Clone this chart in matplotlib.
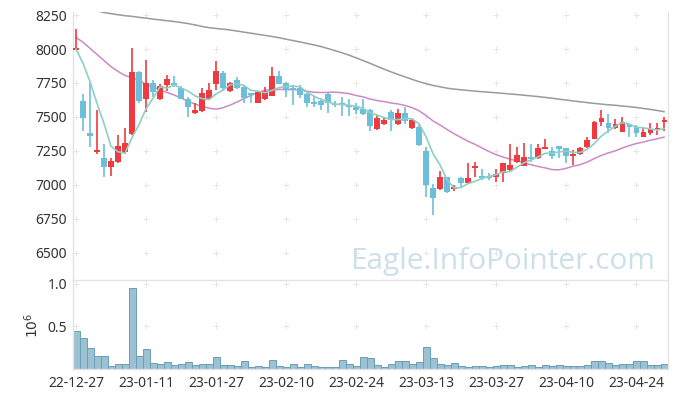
"""
Candlestick chart with 5/20/60 day moving averages and a volume panel.
"""

import matplotlib
matplotlib.use('Agg')
import matplotlib.pyplot as plt
import numpy as np

# Daily OHLC, one entry per trading day
opens = [7990, 7620, 7380, 7240, 7200, 7135, 7170, 7240, 7375, 7830,
         7630, 7750, 7630, 7735, 7750, 7715, 7635, 7527, 7545, 7630,
         7740, 7820, 7690, 7775, 7720, 7675, 7605, 7630, 7655, 7800,
         7750, 7710, 7710, 7670, 7610, 7620, 7670, 7595, 7605, 7585,
         7575, 7560, 7555, 7410, 7445, 7535, 7445, 7527, 7417, 7425,
         7250, 6980, 6970, 7057, 6970, 7050, 7017, 7125, 7065, 7065,
         7057, 7086, 7110, 7172, 7142, 7208, 7196, 7265, 7250, 7287,
         7270, 7216, 7228, 7277, 7336, 7461, 7453, 7417, 7392, 7446,
         7429, 7355, 7380, 7404, 7466]
highs = [8150, 7670, 7760, 7550, 7300, 7195, 7365, 7420, 8005, 7840,
         7920, 7775, 7740, 7810, 7805, 7725, 7650, 7600, 7710, 7750,
         7910, 7835, 7755, 7795, 7725, 7680, 7690, 7720, 7865, 7835,
         7755, 7735, 7735, 7675, 7655, 7640, 7675, 7620, 7645, 7630,
         7600, 7630, 7560, 7515, 7500, 7550, 7557, 7575, 7490, 7440,
         7280, 7010, 7100, 7060, 7000, 7055, 7160, 7172, 7115, 7090,
         7115, 7165, 7300, 7280, 7310, 7300, 7300, 7335, 7282, 7290,
         7275, 7257, 7280, 7355, 7468, 7550, 7522, 7483, 7498, 7450,
         7440, 7417, 7458, 7458, 7498]
lows = [7990, 7400, 7280, 7230, 7060, 7065, 7165, 7230, 7370, 7600,
        7535, 7650, 7625, 7690, 7720, 7630, 7500, 7520, 7540, 7625,
        7695, 7700, 7685, 7705, 7605, 7600, 7600, 7625, 7655, 7740,
        7650, 7590, 7640, 7570, 7575, 7550, 7530, 7570, 7505, 7505,
        7520, 7518, 7400, 7405, 7440, 7400, 7440, 7450, 7410, 7290,
        6910, 6780, 6965, 6940, 6955, 6985, 7015, 7057, 7035, 7040,
        7025, 7020, 7098, 7165, 7140, 7172, 7192, 7262, 7190, 7196,
        7165, 7147, 7220, 7275, 7335, 7430, 7380, 7410, 7390, 7355,
        7355, 7353, 7368, 7368, 7400]
closes = [8010, 7495, 7360, 7260, 7135, 7175, 7290, 7310, 7830, 7615,
          7750, 7685, 7730, 7780, 7735, 7635, 7575, 7550, 7680, 7700,
          7840, 7715, 7750, 7715, 7640, 7660, 7685, 7690, 7800, 7745,
          7705, 7695, 7665, 7605, 7595, 7585, 7605, 7585, 7585, 7570,
          7555, 7520, 7435, 7490, 7478, 7475, 7527, 7473, 7478, 7295,
          7000, 6905, 7057, 6945, 6983, 7017, 7050, 7140, 7050, 7052,
          7081, 7160, 7147, 7221, 7204, 7190, 7270, 7279, 7216, 7262,
          7216, 7228, 7270, 7331, 7466, 7490, 7417, 7449, 7461, 7424,
          7380, 7387, 7410, 7421, 7478]

# Moving averages as drawn on the chart
ma5 = [8000, 7895, 7760, 7600, 7452, 7285, 7244, 7234, 7348, 7444,
       7559, 7638, 7722, 7712, 7736, 7713, 7691, 7655, 7635, 7628,
       7669, 7697, 7737, 7744, 7732, 7696, 7690, 7678, 7695, 7716,
       7725, 7727, 7722, 7683, 7653, 7629, 7611, 7595, 7591, 7586,
       7580, 7563, 7533, 7514, 7496, 7480, 7481, 7489, 7486, 7450,
       7355, 7230, 7147, 7040, 6978, 6981, 7010, 7027, 7048, 7062,
       7075, 7097, 7098, 7132, 7163, 7184, 7206, 7233, 7232, 7243,
       7249, 7240, 7238, 7261, 7302, 7357, 7395, 7431, 7457, 7448,
       7426, 7420, 7412, 7404, 7415]
ma20 = [8085, 8050, 8005, 7960, 7915, 7870, 7835, 7805, 7790, 7770,
        7740, 7720, 7700, 7680, 7662, 7640, 7615, 7595, 7578, 7565,
        7557, 7568, 7587, 7610, 7635, 7659, 7679, 7698, 7697, 7703,
        7701, 7701, 7698, 7689, 7682, 7680, 7681, 7683, 7678, 7672,
        7658, 7648, 7632, 7621, 7613, 7603, 7596, 7585, 7569, 7546,
        7511, 7471, 7441, 7408, 7377, 7349, 7321, 7299, 7272, 7246,
        7223, 7205, 7190, 7177, 7163, 7149, 7136, 7126, 7113, 7111,
        7122, 7138, 7149, 7168, 7193, 7216, 7235, 7250, 7271, 7289,
        7304, 7315, 7329, 7339, 7352]
ma60 = [8330, 8315, 8300, 8280, 8268, 8260, 8252, 8245, 8240, 8233,
        8227, 8220, 8214, 8208, 8202, 8195, 8187, 8177, 8166, 8157,
        8151, 8146, 8140, 8132, 8124, 8116, 8108, 8100, 8092, 8083,
        8072, 8062, 8052, 8041, 8030, 8018, 8003, 7988, 7972, 7955,
        7935, 7915, 7895, 7873, 7852, 7832, 7813, 7795, 7777, 7760,
        7745, 7732, 7722, 7712, 7705, 7700, 7695, 7690, 7686, 7682,
        7678, 7674, 7669, 7665, 7660, 7655, 7650, 7644, 7638, 7631,
        7625, 7618, 7612, 7606, 7600, 7595, 7590, 7586, 7581, 7576,
        7570, 7563, 7556, 7548, 7539]

# Volume in millions of shares
volume = [0.450, 0.363, 0.245, 0.154, 0.154, 0.036, 0.059, 0.059, 0.955, 0.154,
          0.233, 0.067, 0.059, 0.079, 0.047, 0.059, 0.079, 0.047, 0.059, 0.059,
          0.138, 0.047, 0.047, 0.036, 0.095, 0.024, 0.036, 0.024, 0.107, 0.036,
          0.024, 0.059, 0.024, 0.059, 0.036, 0.024, 0.024, 0.024, 0.107, 0.059,
          0.036, 0.138, 0.126, 0.043, 0.020, 0.059, 0.095, 0.095, 0.059, 0.083,
          0.256, 0.126, 0.059, 0.043, 0.067, 0.032, 0.020, 0.032, 0.032, 0.020,
          0.032, 0.043, 0.043, 0.020, 0.032, 0.043, 0.020, 0.043, 0.032, 0.043,
          0.032, 0.032, 0.032, 0.043, 0.095, 0.095, 0.067, 0.043, 0.055, 0.055,
          0.095, 0.095, 0.043, 0.043, 0.055]

# Date labels shown every 10 trading days
tick_labels = ['22-12-27', '23-01-11', '23-01-27', '23-02-10', '23-02-24',
               '23-03-13', '23-03-27', '23-04-10', '23-04-24']
price_ticks = [6500, 6750, 7000, 7250, 7500, 7750, 8000, 8250]
vol_ticks = [0.5, 1.0]

UP = '#ef3a3f'
DOWN = '#6bbfd9'
TEXT = '#333333'
FRAME = '#e3e3e3'

plt.rcParams['font.family'] = ['Noto Sans', 'DejaVu Sans']

x = np.arange(len(closes))
o = np.array(opens)
c = np.array(closes)
colors = [UP if cc >= oo else DOWN for oo, cc in zip(o, c)]
body_low = np.minimum(o, c)
body_h = np.maximum(np.abs(c - o), 6)
tick_pos = x[::10]

fig = plt.figure(figsize=(6.77, 3.98), dpi=100)
fig.patch.set_facecolor('white')
ax = fig.add_axes([0.1071, 0.2965, 0.8789, 0.6733])
axv = fig.add_axes([0.1071, 0.0729, 0.8789, 0.2236], sharex=ax)

# Watermark
fig.text(0.7427, 0.3249, 'Eagle.InfoPointer.com', fontsize=21.5,
         family=['Open Sans', 'DejaVu Sans'], color='#cce0e9',
         ha='center', va='baseline', zorder=0)

# Grid crosses (faint)
gx, gy = np.meshgrid(tick_pos, price_ticks)
ax.scatter(gx.ravel(), gy.ravel(), marker='+', s=14, color='#e6e6e6',
           linewidths=0.7, zorder=1)
gx, gy = np.meshgrid(tick_pos, vol_ticks)
axv.scatter(gx.ravel(), gy.ravel(), marker='+', s=14, color='#e6e6e6',
            linewidths=0.7, zorder=1)

# Moving averages
ax.plot(x, ma60, color='#9a9a9a', linewidth=1.1, zorder=2)
ax.plot(x, ma20, color='#cc8ac6', linewidth=1.1, zorder=2)

# Candles
ax.vlines(x, lows, highs, colors=colors, linewidth=1.2, zorder=3)
ax.bar(x, body_h, bottom=body_low, width=0.72, color=colors, linewidth=0, zorder=3)

ax.plot(x, ma5, color='#8fcfc6', linewidth=1.2, zorder=4)

ax.set_xlim(-0.5, 84.5)
ax.set_ylim(6301, 8272)
ax.set_yticks(price_ticks)
ax.set_yticklabels([str(v) for v in price_ticks])

# Volume bars
axv.bar(x, volume, width=1.0, color='#9cc1d2', edgecolor='#6a9fb7',
        linewidth=0.7, zorder=2)
axv.set_ylim(0, 1.047)
axv.set_yticks(vol_ticks)
axv.set_yticklabels(['0.5', '1.0'])
axv.set_xticks(tick_pos)
axv.set_xticklabels(tick_labels)
fig.text(0.0487, 0.1834, r'$10^6$', rotation=90, fontsize=10, color=TEXT,
         ha='center', va='center')

for a in (ax, axv):
    a.set_facecolor('none')
    a.tick_params(axis='both', length=0, labelsize=10, colors=TEXT, pad=4)
    for side in ('left', 'right', 'bottom', 'top'):
        a.spines[side].set_color(FRAME)
        a.spines[side].set_linewidth(1)
    a.spines['top'].set_visible(False)
ax.tick_params(axis='x', labelbottom=False)
axv.tick_params(axis='x', pad=5)

fig.savefig('out.png', dpi=100, facecolor='white')
